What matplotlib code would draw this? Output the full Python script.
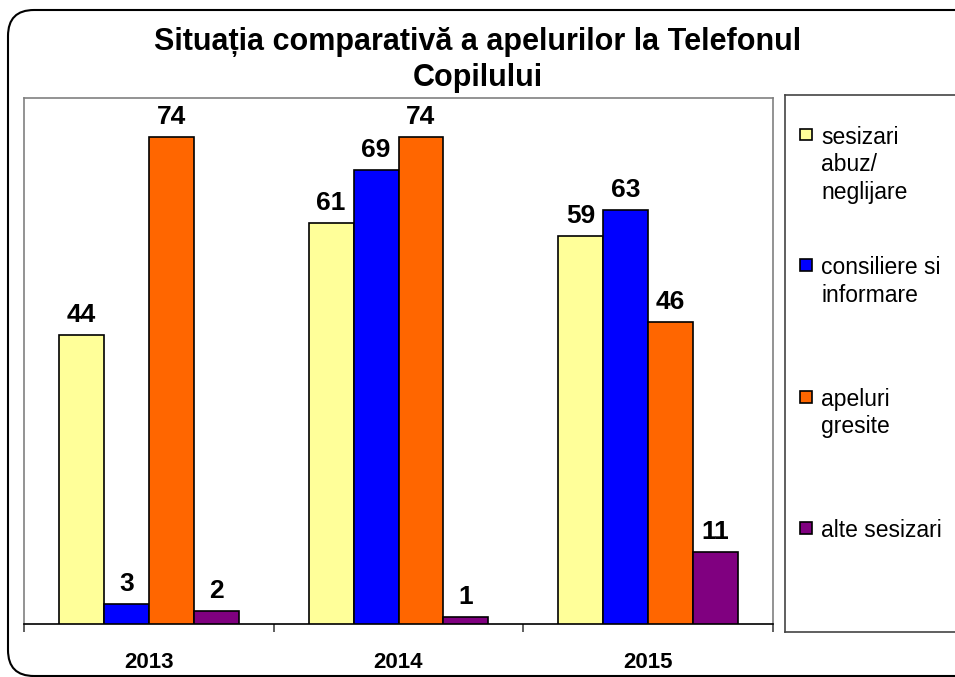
import matplotlib
matplotlib.use("Agg")
import matplotlib.pyplot as plt
from matplotlib.patches import FancyBboxPatch, Rectangle
import numpy as np

plt.rcParams['font.family'] = ['Liberation Sans', 'DejaVu Sans']

years = ['2013', '2014', '2015']
series_names = ['sesizari\nabuz/\nneglijare', 'consiliere si\ninformare', 'apeluri\ngresite', 'alte sesizari']
sesizari = [44, 61, 59]
consiliere = [3, 69, 63]
apeluri = [74, 74, 46]
alte = [2, 1, 11]
colors = ['#FFFF99', '#0000FF', '#FF6600', '#800080']

values = [sesizari, consiliere, apeluri, alte]

fig = plt.figure(figsize=(9.55, 6.77), dpi=100, facecolor='white')

# outer rounded frame
frame = FancyBboxPatch((0.08, 0.01), 9.8, 6.66, boxstyle="round,pad=0,rounding_size=0.26",
                       transform=fig.dpi_scale_trans, facecolor='none', edgecolor='black',
                       linewidth=1.5, zorder=-1)
fig.patches.append(frame)

ax = fig.add_axes([24/955, 1-624/677, (773-24)/955, (624-98)/677])
ax.set_facecolor('white')
x = np.arange(len(years))
w = 0.18
for j, (vals, c) in enumerate(zip(values, colors)):
    bars = ax.bar(x + (j - 1.5) * w, vals, w, color=c, edgecolor='black', linewidth=1.2, zorder=3)
    for b, v in zip(bars, vals):
        ax.annotate(str(v), (b.get_x() + b.get_width() / 2, b.get_height()),
                    xytext=(0, 13), textcoords='offset pixels', ha='center', va='baseline',
                    fontsize=19, fontweight='bold')

ax.set_xlim(-0.5, 2.5)
ax.set_ylim(0, 80)
ax.set_yticks([])
ax.set_xticks([-0.5, 0.5, 1.5, 2.5])
ax.set_xticklabels([])
ax.tick_params(axis='x', which='major', length=6, width=1.2, color='#444444', direction='out')
ax.set_xticks(x, minor=True)
ax.set_xticklabels(years, minor=True, fontsize=16, fontweight='bold')
ax.tick_params(axis='x', which='minor', length=0, pad=20)
for s in ['left', 'top', 'right']:
    ax.spines[s].set_color('#808080')
    ax.spines[s].set_linewidth(1.2)
ax.spines['bottom'].set_color('black')
ax.spines['bottom'].set_linewidth(1.2)

fig.text(478/955, 1-42/677, 'Situația comparativă a apelurilor la Telefonul', ha='center', va='center',
         fontsize=22, fontweight='bold')
fig.text(478/955, 1-78/677, 'Copilului', ha='center', va='center', fontsize=22, fontweight='bold')

# legend box
lax = fig.add_axes([785/955, 1-632/677, 200/955, (632-95)/677])
lax.set_xlim(0, 200)
lax.set_ylim(632, 95)
lax.set_xticks([])
lax.set_yticks([])
for s in lax.spines.values():
    s.set_color('#444444')
    s.set_linewidth(1.2)
entry_y = [134.5, 265, 397, 528]
for name, c, yy in zip(series_names, colors, entry_y):
    lax.add_patch(Rectangle((15, yy - 6), 11.5, 11.5, facecolor=c, edgecolor='black', linewidth=1.2))
    lax.text(36, yy - 9, name, ha='left', va='top', fontsize=16.5, linespacing=1.25)

fig.savefig('out.png', dpi=100)
